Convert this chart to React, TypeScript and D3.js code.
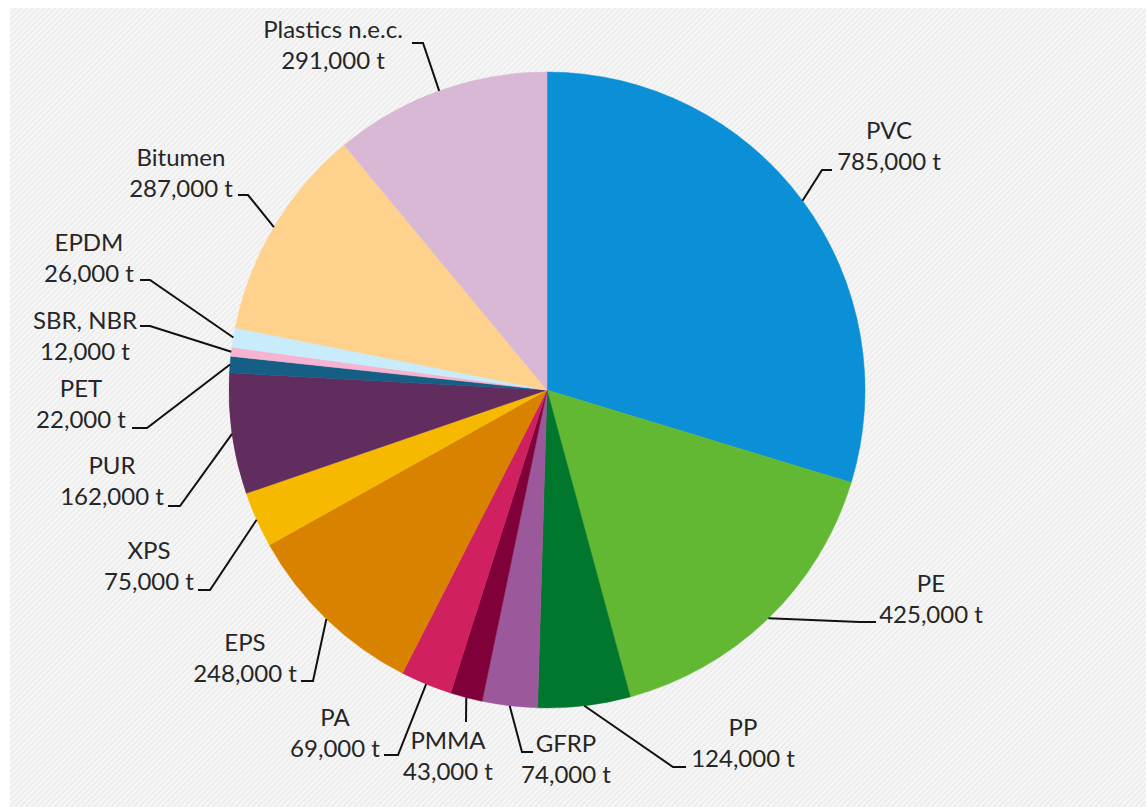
import React from "react";
import * as d3 from "d3";

const categories = [
  "PVC", "PE", "PP", "GFRP", "PMMA", "PA", "EPS", "XPS", "PUR", "PET",
  "SBR, NBR", "EPDM", "Bitumen", "Plastics n.e.c.",
];
const values = [785000, 425000, 124000, 74000, 43000, 69000, 248000, 75000, 162000, 22000, 12000, 26000, 287000, 291000];
const colors = [
  "#0b8fd6", "#62b832", "#00772c", "#9b589b", "#80003a", "#d02060", "#d88200",
  "#f7b900", "#602d5e", "#155e84", "#f6b3d2", "#c8ecfb", "#fed28d", "#d9b8d6",
];

// label layout: text centre x, first-line centre y, elbow point, end point
const labelLayout = [
  { x: 889, y: 130, elbow: [822, 170], end: [832, 170] },
  { x: 931, y: 583, elbow: [860, 622], end: [876, 622] },
  { x: 743, y: 727, elbow: [673, 767], end: [686, 767] },
  { x: 566, y: 743, elbow: [522, 752], end: [533, 752] },
  { x: 448, y: 740, elbow: [466, 722], end: [466, 722] },
  { x: 335, y: 717, elbow: [398, 755], end: [384, 755] },
  { x: 245, y: 642, elbow: [313, 681], end: [301, 681] },
  { x: 149, y: 550, elbow: [210, 590], end: [198, 590] },
  { x: 112, y: 465, elbow: [180, 506], end: [168, 506] },
  { x: 81, y: 388, elbow: [147, 428], end: [132, 428] },
  { x: 85, y: 320, elbow: [150, 326], end: [140, 326] },
  { x: 89, y: 242, elbow: [150, 280], end: [140, 280] },
  { x: 181, y: 157, elbow: [248, 195], end: [238, 195] },
  { x: 333, y: 29, elbow: [423, 43], end: [412, 43] },
];

const W = 1146;
const H = 807;
const CX = 547;
const CY = 390;
const R = 318;
const LINE_GAP = 31;

const fmt = d3.format(",");

export default function App() {
  const pie = d3.pie<number>().sort(null).value((d) => d)(values);
  const arc = d3.arc<d3.PieArcDatum<number>>().innerRadius(0).outerRadius(R);

  return (
    <svg
      width={W}
      height={H}
      style={{ position: "absolute", left: 0, top: 0, display: "block" }}
      fontFamily="Lato, 'Open Sans', sans-serif"
    >
      <defs>
        <pattern id="stripes" width="4" height="4" patternUnits="userSpaceOnUse" patternTransform="rotate(45)">
          <rect width="4" height="4" fill="#f7f7f7" />
          <rect width="1.6" height="4" fill="#ebebeb" />
        </pattern>
      </defs>
      <rect x={0} y={0} width={W} height={H} fill="#ffffff" />
      <rect x={10} y={8} width={W - 10} height={H - 8} fill="url(#stripes)" />
      <g transform={`translate(${CX},${CY})`}>
        {pie.map((p, i) => (
          <path key={categories[i]} d={arc(p) || ""} fill={colors[i]} stroke={colors[i]} strokeWidth={0.5} />
        ))}
      </g>
      {pie.map((p, i) => {
        const mid = (p.startAngle + p.endAngle) / 2;
        const sx = CX + R * Math.sin(mid);
        const sy = CY - R * Math.cos(mid);
        const L = labelLayout[i];
        const pts = `${sx},${sy} ${L.elbow[0]},${L.elbow[1]} ${L.end[0]},${L.end[1]}`;
        return (
          <polyline key={"l" + i} points={pts} fill="none" stroke="#111" strokeWidth={2} />
        );
      })}
      {categories.map((c, i) => {
        const L = labelLayout[i];
        return (
          <text key={"t" + i} textAnchor="middle" fill="#262626" fontSize={24}>
            <tspan x={L.x} y={L.y + 8.5}>{c}</tspan>
            <tspan x={L.x} y={L.y + LINE_GAP + 8.5}>{fmt(values[i]) + " t"}</tspan>
          </text>
        );
      })}
    </svg>
  );
}
